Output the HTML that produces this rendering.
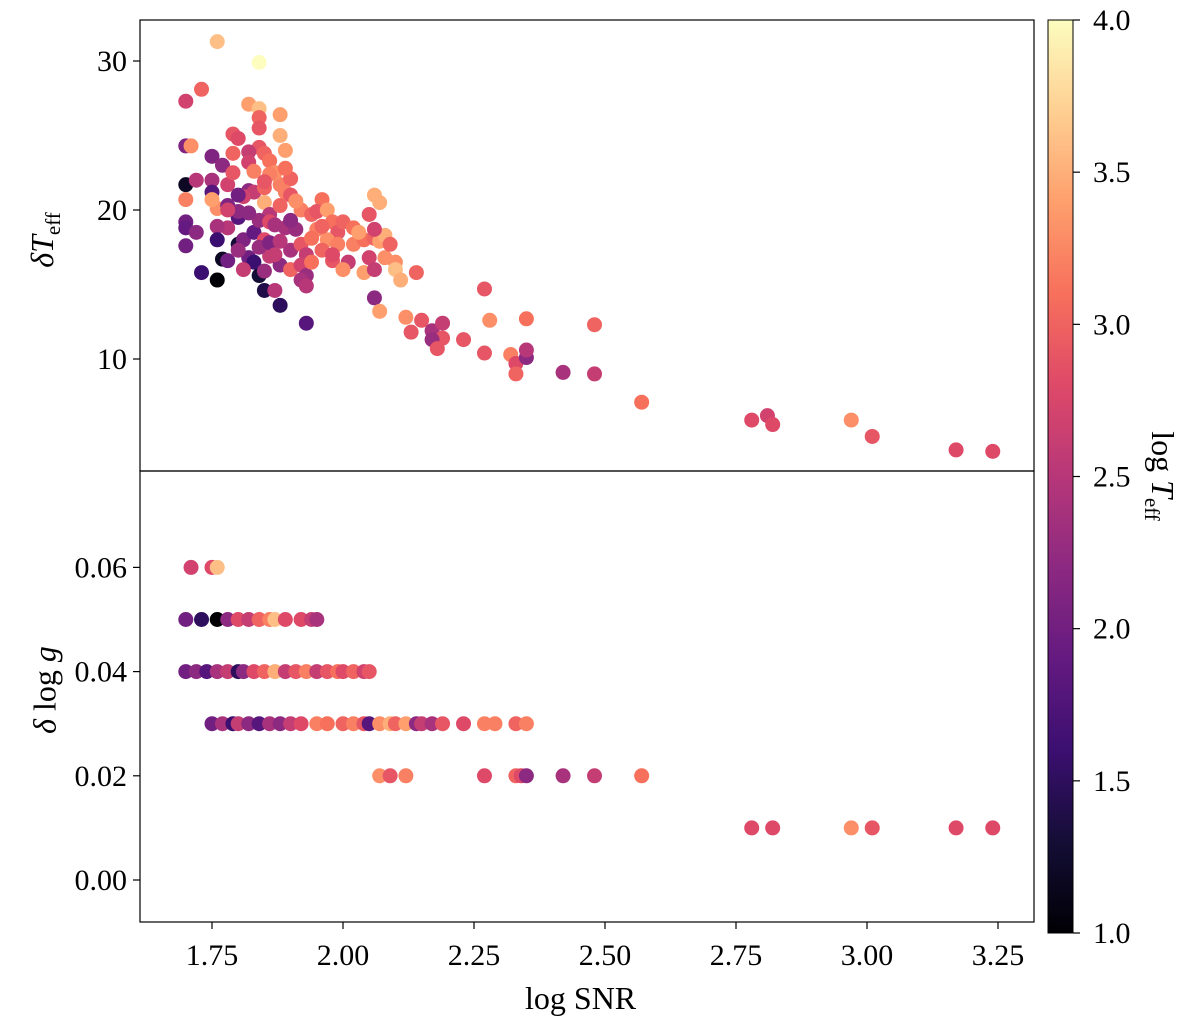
<!DOCTYPE html>
<html><head><meta charset="utf-8"><style>
body{margin:0;background:#fff}
svg{display:block;font-family:"Liberation Serif","DejaVu Serif",serif}
</style></head><body>
<svg id="chart" width="1200" height="1027" xmlns="http://www.w3.org/2000/svg">
<defs><linearGradient id="magma" x1="0" y1="1" x2="0" y2="0">
<stop offset="0" stop-color="#000004"/><stop offset="0.1" stop-color="#140e36"/><stop offset="0.2" stop-color="#3b0f70"/><stop offset="0.3" stop-color="#641a80"/><stop offset="0.4" stop-color="#8c2981"/><stop offset="0.5" stop-color="#b73779"/><stop offset="0.6" stop-color="#de4968"/><stop offset="0.7" stop-color="#f7705c"/><stop offset="0.8" stop-color="#fe9f6d"/><stop offset="0.9" stop-color="#fecf92"/><stop offset="1" stop-color="#fcfdbf"/>
</linearGradient></defs>
<g id="top-marks"></g>
<g id="bot-marks"></g>
<g id="axes"></g>
</svg>
<script>
const topX=[1.76,1.84,1.73,1.70,1.82,1.84,1.88,1.84,1.84,1.88,1.79,1.80,1.89,1.70,1.71,1.84,1.75,1.77,1.79,1.82,1.85,1.86,1.82,1.70,1.72,1.75,1.75,1.78,1.76,1.70,1.75,1.78,1.82,1.83,1.85,1.88,1.90,1.89,1.85,1.86,1.80,1.80,1.78,1.76,1.70,1.70,1.70,1.72,1.76,1.80,1.77,1.78,1.73,1.76,1.81,1.83,1.84,1.86,1.89,1.91,1.82,1.83,1.84,1.85,1.88,1.87,1.93,1.86,1.81,1.80,1.88,1.85,1.90,1.92,1.93,1.90,1.92,1.93,1.92,1.94,1.92,1.94,1.96,1.95,1.97,1.95,1.98,1.99,1.97,1.96,1.99,2.00,2.02,1.98,2.01,2.00,2.02,2.04,2.03,2.06,2.07,2.08,2.06,2.07,2.05,2.06,2.05,2.04,2.06,2.07,2.06,2.08,2.09,2.10,2.10,2.11,2.14,2.12,2.13,2.15,2.17,2.19,2.19,2.17,2.18,2.23,2.27,2.27,2.28,2.32,2.33,2.33,2.35,2.35,2.35,2.42,2.48,2.48,2.57,2.78,2.81,2.82,2.97,3.01,3.17,3.24,
1.87,1.89,1.90,1.86,1.88,1.91,1.83,1.85,1.87,1.81,1.79,1.82,1.84,1.86,1.88,1.90,1.94,1.96,1.98,1.85,1.87,1.80,1.78,1.93];
const topY=[31.3,29.9,28.1,27.3,27.1,26.8,26.4,26.2,25.5,25.0,25.1,24.8,24.0,24.3,24.3,24.2,23.6,23.0,23.8,23.9,23.8,23.3,23.2,21.7,22.0,22.0,21.2,21.7,20.1,20.7,20.7,20.3,21.3,21.2,21.5,21.7,22.1,21.2,20.5,19.7,19.5,19.9,18.8,18.9,19.2,18.8,17.6,18.5,18.0,17.7,16.7,16.6,15.8,15.3,18.0,18.5,19.3,19.2,18.8,18.7,16.8,16.5,15.6,14.6,13.6,14.6,12.4,16.9,16.0,17.3,16.3,18.0,17.3,17.7,17.0,16.0,16.3,15.6,15.3,16.5,20.0,19.7,20.7,19.9,20.0,18.7,19.2,18.5,18.0,17.3,17.7,19.2,18.8,16.6,16.5,16.0,17.7,18.0,18.5,18.1,17.9,18.3,21.0,20.5,19.7,18.7,16.8,15.8,14.1,13.2,16.0,16.8,17.7,16.5,16.0,15.3,15.8,12.8,11.8,12.6,11.9,12.4,11.4,11.3,10.7,11.3,14.7,10.4,12.6,10.3,9.7,9.0,12.7,10.1,10.6,9.1,9.0,12.3,7.1,5.9,6.2,5.6,5.9,4.8,3.9,3.8,
22.5,22.8,21.0,22.4,20.3,20.6,22.6,21.9,19.0,20.9,22.5,19.8,17.5,17.8,17.9,19.3,18.1,18.9,17.0,15.9,17.0,21.0,20.0,14.9];
const topC=[3.6,4.0,3.0,2.7,3.4,3.6,3.4,3.0,2.9,3.5,2.9,2.8,3.4,2.1,3.3,2.9,2.1,2.2,3.0,2.6,3.0,3.1,2.7,1.2,2.5,2.4,1.8,2.7,3.3,3.2,3.4,2.1,2.2,2.6,3.0,3.2,3.0,3.2,3.5,2.5,1.8,2.2,2.5,2.4,2.0,1.9,2.0,2.2,1.6,1.3,1.2,2.0,1.6,1.0,2.1,1.9,2.3,2.8,2.4,2.3,2.0,1.6,1.3,1.4,1.5,2.5,1.8,2.6,2.6,2.3,2.2,2.8,2.4,2.9,2.6,3.0,2.7,2.3,2.4,3.1,3.2,3.0,3.1,2.9,3.4,3.2,3.1,2.9,3.3,3.0,3.2,3.0,3.1,2.9,2.6,3.3,3.2,3.1,3.4,3.0,3.4,3.5,3.5,3.5,2.9,2.7,2.7,3.4,2.2,3.4,2.6,3.3,3.0,3.3,3.6,3.5,3.0,3.3,2.9,2.9,2.4,2.6,2.9,2.3,2.9,2.9,2.9,2.9,3.3,3.2,2.8,3.0,3.1,2.2,2.5,2.4,2.6,3.0,3.1,2.8,2.7,2.8,3.3,2.9,2.8,2.8,
3.3,3.1,2.9,3.2,3.0,3.3,3.2,2.9,2.4,2.7,2.9,2.2,2.3,2.1,2.5,2.2,3.1,3.0,2.8,2.3,2.6,2.0,2.7,2.5];
const botX=[1.71,1.75,1.76, 1.70,1.73,1.76,1.78,1.80,1.82,1.84,1.86,1.87,1.89,1.92,1.94,1.95, 1.70,1.72,1.74,1.76,1.78,1.80,1.81,1.83,1.85,1.87,1.89,1.91,1.93,1.95,1.97,1.99,2.00,2.02,2.04,2.05, 1.75,1.77,1.79,1.80,1.82,1.84,1.86,1.88,1.90,1.92,1.95,1.97,2.00,2.02,2.04,2.05,2.07,2.09,2.10,2.12,2.14,2.15,2.17,2.19,2.23,2.27,2.29,2.33,2.35, 2.07,2.09,2.12,2.27,2.33,2.34,2.35,2.42,2.48,2.57, 2.78,2.82,2.97,3.01,3.17,3.24];
const botY=[0.06,0.06,0.06, 0.05,0.05,0.05,0.05,0.05,0.05,0.05,0.05,0.05,0.05,0.05,0.05,0.05, 0.04,0.04,0.04,0.04,0.04,0.04,0.04,0.04,0.04,0.04,0.04,0.04,0.04,0.04,0.04,0.04,0.04,0.04,0.04,0.04, 0.03,0.03,0.03,0.03,0.03,0.03,0.03,0.03,0.03,0.03,0.03,0.03,0.03,0.03,0.03,0.03,0.03,0.03,0.03,0.03,0.03,0.03,0.03,0.03,0.03,0.03,0.03,0.03,0.03, 0.02,0.02,0.02,0.02,0.02,0.02,0.02,0.02,0.02,0.02, 0.01,0.01,0.01,0.01,0.01,0.01];
const botC=[2.7,2.8,3.6, 2.0,1.5,1.0,2.2,2.8,2.6,3.0,3.2,3.6,2.8,2.8,2.6,2.4, 2.0,2.2,1.8,2.4,2.6,1.5,2.2,2.8,3.0,3.5,2.6,2.9,3.2,2.6,2.9,3.1,2.8,3.0,2.7,2.9, 2.0,2.4,1.6,2.6,2.2,1.8,2.4,2.2,2.6,2.8,3.2,3.1,3.0,3.2,2.9,1.8,3.3,3.5,3.0,3.4,2.2,2.6,2.4,2.9,2.8,3.2,3.2,3.0,3.2, 3.3,2.9,3.2,2.8,3.0,2.8,2.2,2.4,2.6,3.1, 2.8,2.8,3.3,2.9,2.8,2.8];
const xTicks=[1.75,2.00,2.25,2.50,2.75,3.00,3.25];
const topTicks=[10,20,30];
const botTicks=[0.00,0.02,0.04,0.06];
const cbTicks=[1.0,1.5,2.0,2.5,3.0,3.5,4.0];

const NS="http://www.w3.org/2000/svg";
const L=140,R=1034,T1=20,M=471,B2=922;
const xs=v=>212+(v-1.75)*524;
const ys1=v=>359-(v-10)*14.9;
const ys2=v=>880-v*5210;
const cbY=v=>933-(v-1)*304.33;
const stops=[[0,0,0,4],[0.1,20,14,54],[0.2,59,15,112],[0.3,100,26,128],[0.4,140,41,129],[0.5,183,55,121],[0.6,222,73,104],[0.7,247,112,92],[0.8,254,159,109],[0.9,254,207,146],[1,252,253,191]];
function magma(c){let t=Math.max(0,Math.min(1,(c-1)/3));for(let i=1;i<stops.length;i++){if(t<=stops[i][0]){const a=stops[i-1],b=stops[i],f=(t-a[0])/(b[0]-a[0]);return `rgb(${[1,2,3].map(k=>Math.round(a[k]+f*(b[k]-a[k]))).join(',')})`;}}return 'rgb(252,253,191)';}
function mk(tag,attrs,parent){const e=document.createElementNS(NS,tag);for(const k in attrs)e.setAttribute(k,attrs[k]);parent.appendChild(e);return e;}
const gt=document.getElementById('top-marks'),gb=document.getElementById('bot-marks'),ga=document.getElementById('axes');
topX.forEach((x,i)=>{const c=mk('circle',{cx:xs(x),cy:ys1(topY[i]),r:7.5,fill:magma(topC[i])},gt);

});
botX.forEach((x,i)=>{const c=mk('circle',{cx:xs(x),cy:ys2(botY[i]),r:7.5,fill:magma(botC[i])},gb);

});
const f1=mk('rect',{x:L,y:T1,width:R-L,height:M-T1,fill:'none',stroke:'#000','stroke-width':1.2},ga);


const f2=mk('rect',{x:L,y:M,width:R-L,height:B2-M,fill:'none',stroke:'#000','stroke-width':1.2},ga);


xTicks.forEach(v=>{const x=xs(v);mk('line',{x1:x,y1:B2,x2:x,y2:B2+7,stroke:'#000','stroke-width':1.2},ga);
const t=mk('text',{x:x,y:B2+43,'font-size':30,'text-anchor':'middle'},ga);t.textContent=v.toFixed(2);

});
topTicks.forEach(v=>{const y=ys1(v);mk('line',{x1:L-7,y1:y,x2:L,y2:y,stroke:'#000','stroke-width':1.2},ga);
const t=mk('text',{x:L-13,y:y+10,'font-size':30,'text-anchor':'end'},ga);t.textContent=v;

});
botTicks.forEach(v=>{const y=ys2(v);mk('line',{x1:L-7,y1:y,x2:L,y2:y,stroke:'#000','stroke-width':1.2},ga);
const t=mk('text',{x:L-13,y:y+10,'font-size':30,'text-anchor':'end'},ga);t.textContent=v.toFixed(2);

});
const cb=mk('rect',{x:1048,y:cbY(4),width:25,height:cbY(1)-cbY(4),fill:'url(#magma)',stroke:'#000','stroke-width':1},ga);


cbTicks.forEach(v=>{const y=cbY(v);mk('line',{x1:1073,y1:y,x2:1080,y2:y,stroke:'#000','stroke-width':1.2},ga);
const t=mk('text',{x:1093,y:y+10,'font-size':30},ga);t.textContent=v.toFixed(1);

});
</script>
<div style="position:absolute;left:0;top:0;width:1200px;height:1027px;pointer-events:none;font-family:'Liberation Serif','DejaVu Serif',serif">
<div style="position:absolute;left:525px;top:980px;font-size:32px">log SNR</div>
<div style="position:absolute;left:45px;top:240px;transform:translate(-50%,-50%) rotate(-90deg);font-size:32px;white-space:nowrap"><i>δT</i><sub style="font-size:21px">eff</sub></div>
<div style="position:absolute;left:45px;top:690px;transform:translate(-50%,-50%) rotate(-90deg);font-size:32px;white-space:nowrap"><i>δ</i> log <i>g</i></div>
<div style="position:absolute;left:1160px;top:476px;transform:translate(-50%,-50%) rotate(90deg);font-size:32px;white-space:nowrap">log <i>T</i><sub style="font-size:21px">eff</sub></div>
</div>
</body></html>
